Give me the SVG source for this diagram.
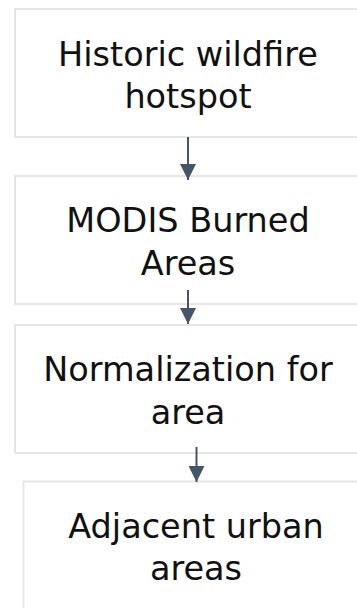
<svg xmlns="http://www.w3.org/2000/svg" width="357" height="608" viewBox="0 0 357 608">
<defs>
<style>
.box{fill:#ffffff;stroke:#e6e6e6;stroke-width:2}
.lbl{font-family:"DejaVu Sans","Open Sans",sans-serif;font-size:33.5px;fill:#111111;text-anchor:middle}
.edge{stroke:#475569;stroke-width:2;fill:none}
</style>
<marker id="ah" markerWidth="16" markerHeight="16" viewBox="0 0 16 16" refX="16" refY="8" orient="auto" markerUnits="userSpaceOnUse">
<path d="M0,0 L16,8 L0,16 Z" fill="#475569"/>
</marker>
</defs>
<rect width="357" height="608" fill="#ffffff"/>
<g id="n1"><rect class="box" x="15" y="9" width="350" height="128"/>
<text class="lbl" x="188" y="65.5">Historic wildfire</text><text class="lbl" x="188" y="108">hotspot</text></g>
<g id="n2"><rect class="box" x="15" y="176" width="350" height="128"/>
<text class="lbl" x="188" y="231.5">MODIS Burned</text><text class="lbl" x="188" y="275">Areas</text></g>
<g id="n3"><rect class="box" x="15" y="325" width="350" height="128"/>
<text class="lbl" x="188" y="381">Normalization for</text><text class="lbl" x="188" y="424">area</text></g>
<g id="n4"><rect class="box" x="23.5" y="481.5" width="350" height="140"/>
<text class="lbl" x="196" y="538">Adjacent urban</text><text class="lbl" x="196" y="580">areas</text></g>
<g id="edges">
<line class="edge" x1="188" y1="137" x2="188" y2="180" marker-end="url(#ah)"/>
<line class="edge" x1="188" y1="290" x2="188" y2="324" marker-end="url(#ah)"/>
<line class="edge" x1="196.5" y1="447" x2="196.5" y2="482" marker-end="url(#ah)"/>
</g>
</svg>
